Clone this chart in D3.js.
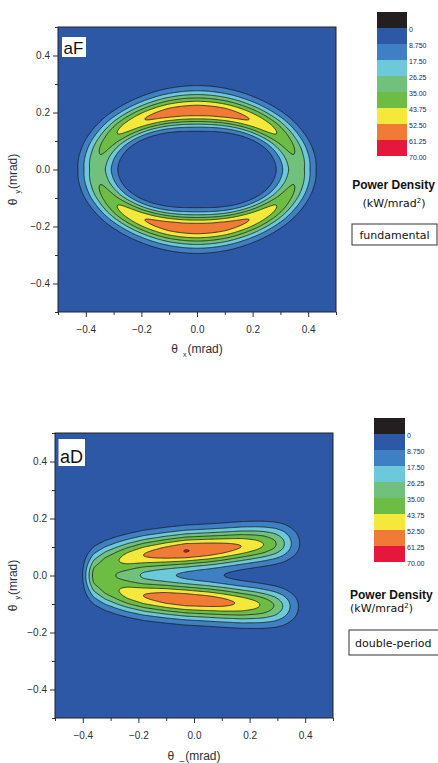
<!DOCTYPE html>
<html>
<head>
<meta charset="utf-8">
<script src="https://cdn.jsdelivr.net/npm/d3@7"></script>
<style>
  body { margin: 0; background: #fff; }
  svg { display: block; }
</style>
</head>
<body>
<svg id="chart" width="438" height="763"></svg>
<script>
// contour levels (kW/mrad^2) and legend
const levels = [0, 8.75, 17.5, 26.25, 35, 43.75, 52.5, 61.25, 70];
const levelLabels = ['0', '8.750', '17.50', '26.25', '35.00', '43.75', '52.50', '61.25', '70.00'];
const bandColors = ['#2d58a6', '#3f7fc3', '#6cc9d9', '#71c07c', '#6dbd45', '#f4e93b', '#f07a36', '#e5173c'];
const overColor = '#231f20';

const majorTicks = [-0.4, -0.2, 0, 0.2, 0.4];
const minorTicks = [-0.5, -0.3, -0.1, 0.1, 0.3, 0.5];

// fundamental: ring, per elliptic angle (deg, first quadrant)
const ringAngles = [0, 15, 30, 45, 60, 75, 90];
const ringPeak = [32, 35, 40, 47.5, 53, 57, 58];
const ringSigmaIn = [0.046, 0.045, 0.043, 0.041, 0.039, 0.037, 0.0365];
const ringSigmaOut = [0.043, 0.044, 0.045, 0.046, 0.046, 0.046, 0.046];
const ringRadiusX = 0.359;
const ringRadiusY = 0.205;

// double-period: two ridges joined on the left, read along theta_x
const dpX = [-0.42, -0.4, -0.38, -0.36, -0.32, -0.28, -0.24, -0.18, -0.1, -0.03, 0.05, 0.1, 0.17, 0.22, 0.25, 0.29, 0.32, 0.35, 0.38, 0.41];
const dpUpperY = [0.018, 0.022, 0.027, 0.033, 0.045, 0.055, 0.062, 0.072, 0.08, 0.086, 0.091, 0.095, 0.102, 0.106, 0.108, 0.11, 0.111, 0.112, 0.112, 0.112];
const dpLowerY = [-0.018, -0.022, -0.027, -0.033, -0.045, -0.055, -0.062, -0.071, -0.078, -0.084, -0.089, -0.093, -0.099, -0.102, -0.104, -0.106, -0.107, -0.108, -0.108, -0.108];
const dpUpperPeak = [1, 5, 15, 26, 36, 41, 47, 52.5, 58, 61.6, 59.5, 57, 52.5, 47.5, 43.75, 36.5, 28, 17.5, 8.75, 1];
const dpLowerPeak = [1, 5, 15, 26, 36, 41, 47, 52.5, 57.5, 59, 57.5, 55.5, 51, 46, 42, 34.5, 26, 16, 7.5, 1];
const dpSigmaOut = 0.046;
const dpSigmaIn = 0.042;

const interp = (xs, ys, v) => {
  if (v <= xs[0]) return ys[0];
  if (v >= xs[xs.length - 1]) return ys[ys.length - 1];
  const i = d3.bisectRight(xs, v) - 1;
  const f = (v - xs[i]) / (xs[i + 1] - xs[i]);
  return ys[i] + f * (ys[i + 1] - ys[i]);
};

function ringField(x, y) {
  const t = Math.atan2(y / ringRadiusY, x / ringRadiusX);
  let deg = Math.abs((t * 180) / Math.PI);
  if (deg > 90) deg = 180 - deg;
  const rE = Math.hypot(ringRadiusX * Math.cos(t), ringRadiusY * Math.sin(t));
  const d = Math.hypot(x, y) - rE;
  const s = d < 0 ? interp(ringAngles, ringSigmaIn, deg) : interp(ringAngles, ringSigmaOut, deg);
  return interp(ringAngles, ringPeak, deg) * Math.exp(-0.5 * (d / s) ** 2);
}

function doubleField(x, y) {
  const du = y - interp(dpX, dpUpperY, x);
  const dl = y - interp(dpX, dpLowerY, x);
  const su = du > 0 ? dpSigmaOut : dpSigmaIn;
  const sl = dl < 0 ? dpSigmaOut : dpSigmaIn;
  return (
    interp(dpX, dpUpperPeak, x) * Math.exp(-0.5 * (du / su) ** 2) +
    interp(dpX, dpLowerPeak, x) * Math.exp(-0.5 * (dl / sl) ** 2)
  );
}

const svg = d3.select('#chart');
const tickFont = 'Liberation Sans, Arial, sans-serif';

function drawPanel(p) {
  const x = d3.scaleLinear().domain([-0.5, 0.5]).range([p.left, p.right]);
  const y = d3.scaleLinear().domain([-0.5, 0.5]).range([p.bottom, p.top]);
  const g = svg.append('g');

  g.append('clipPath')
    .attr('id', `clip-${p.id}`)
    .append('rect')
    .attr('x', p.left)
    .attr('y', p.top)
    .attr('width', p.right - p.left)
    .attr('height', p.bottom - p.top);

  g.append('rect')
    .attr('x', p.left)
    .attr('y', p.top)
    .attr('width', p.right - p.left)
    .attr('height', p.bottom - p.top)
    .attr('fill', bandColors[0]);

  const n = 300;
  const values = new Float64Array(n * n);
  for (let j = 0; j < n; j++) {
    for (let i = 0; i < n; i++) {
      values[j * n + i] = p.field(-0.5 + (i + 0.5) / n, 0.5 - (j + 0.5) / n);
    }
  }

  const contours = d3
    .contours()
    .size([n, n])
    .thresholds(levels.slice(1, 8))(values);

  const proj = d3.geoTransform({
    point(px, py) {
      this.stream.point(x(-0.5 + px / n), y(0.5 - py / n));
    }
  });

  g.append('g')
    .attr('clip-path', `url(#clip-${p.id})`)
    .selectAll('path')
    .data(contours)
    .join('path')
    .attr('d', d3.geoPath(proj))
    .attr('fill', (d, i) => bandColors[i + 1])
    .attr('stroke', '#1b1b1b')
    .attr('stroke-width', 0.8)
    .attr('stroke-linejoin', 'round');

  // axes
  const styleAxis = sel => {
    sel.select('.domain').remove();
    sel.selectAll('line').attr('stroke', '#333');
    sel.selectAll('text')
      .attr('font-family', tickFont)
      .attr('font-size', 10)
      .attr('fill', '#2c2f3a');
  };

  g.append('g')
    .attr('transform', `translate(0,${p.bottom})`)
    .call(d3.axisBottom(x).tickValues(minorTicks).tickSize(3).tickFormat(''))
    .call(styleAxis);
  g.append('g')
    .attr('transform', `translate(0,${p.bottom})`)
    .call(d3.axisBottom(x).tickValues(majorTicks).tickSize(5).tickPadding(9).tickFormat(d3.format('.1f')))
    .call(styleAxis);
  g.append('g')
    .attr('transform', `translate(${p.left},0)`)
    .call(d3.axisLeft(y).tickValues(minorTicks).tickSize(3).tickFormat(''))
    .call(styleAxis);
  g.append('g')
    .attr('transform', `translate(${p.left},0)`)
    .call(d3.axisLeft(y).tickValues(majorTicks).tickSize(5).tickPadding(3).tickFormat(d3.format('.1f')))
    .call(styleAxis);

  g.append('rect')
    .attr('x', p.left)
    .attr('y', p.top)
    .attr('width', p.right - p.left)
    .attr('height', p.bottom - p.top)
    .attr('fill', 'none')
    .attr('stroke', '#222')
    .attr('stroke-width', 1);

  // axis titles
  const xt = g.append('text')
    .attr('x', (p.left + p.right) / 2)
    .attr('y', p.xTitleY)
    .attr('text-anchor', 'middle')
    .attr('font-family', tickFont)
    .attr('font-size', 12)
    .attr('fill', '#2c2f3a');
  xt.append('tspan').text('θ');
  xt.append('tspan').attr('dx', 5).attr('dy', p.xSubDy).attr('font-size', p.xSubSize).text(p.xSub);
  xt.append('tspan').attr('dx', 1).attr('dy', -p.xSubDy).text('(mrad)');

  const yt = g.append('text')
    .attr('transform', `translate(17,${(p.top + p.bottom) / 2 + 10}) rotate(-90)`)
    .attr('text-anchor', 'middle')
    .attr('font-family', tickFont)
    .attr('font-size', 12)
    .attr('fill', '#2c2f3a');
  yt.append('tspan').text('θ');
  yt.append('tspan').attr('dx', 5).attr('dy', 3).attr('font-size', 7).text('y');
  yt.append('tspan').attr('dx', 1).attr('dy', -3).text('(mrad)');

  // panel tag
  g.append('rect')
    .attr('x', p.tag.x)
    .attr('y', p.tag.y)
    .attr('width', p.tag.w)
    .attr('height', p.tag.h)
    .attr('fill', '#fff');
  g.append('text')
    .attr('x', p.tag.x + 1.5)
    .attr('y', p.tag.y + p.tag.h - 3.5)
    .attr('font-family', tickFont)
    .attr('font-size', p.tag.size)
    .attr('fill', '#111')
    .text(p.tag.text);
}

function drawLegend(l) {
  const g = svg.append('g');
  const step = 16;
  g.append('rect')
    .attr('x', l.barX)
    .attr('y', l.zeroY - step)
    .attr('width', l.barW)
    .attr('height', step)
    .attr('fill', overColor);

  g.selectAll('.band')
    .data(bandColors)
    .join('rect')
    .attr('class', 'band')
    .attr('x', l.barX)
    .attr('y', (d, i) => l.zeroY + i * step)
    .attr('width', l.barW)
    .attr('height', step)
    .attr('fill', d => d);

  g.selectAll('.lvl')
    .data(levelLabels)
    .join('text')
    .attr('class', 'lvl')
    .attr('x', l.labelX)
    .attr('y', (d, i) => l.zeroY + i * step + 3.5)
    .attr('font-family', tickFont)
    .attr('font-size', 7)
    .attr('fill', '#1c2550')
    .text(d => d);

  g.append('text')
    .attr('x', l.titleX)
    .attr('y', l.titleY)
    .attr('text-anchor', l.anchor)
    .attr('font-family', tickFont)
    .attr('font-weight', 'bold')
    .attr('font-size', 12)
    .attr('fill', '#111')
    .text('Power Density');

  const u = g.append('text')
    .attr('x', l.unitX)
    .attr('y', l.unitY)
    .attr('text-anchor', l.anchor)
    .attr('font-family', 'DejaVu Sans, sans-serif')
    .attr('font-size', 11)
    .attr('fill', '#111');
  u.append('tspan').text('(kW/mrad');
  u.append('tspan').attr('dy', -4).attr('font-size', 7).text('2');
  u.append('tspan').attr('dy', 4).text(')');

  g.append('rect')
    .attr('x', l.box.x)
    .attr('y', l.box.y)
    .attr('width', l.box.w)
    .attr('height', l.box.h)
    .attr('fill', '#fff')
    .attr('stroke', '#333')
    .attr('stroke-width', 1);
  g.append('text')
    .attr('x', l.box.tx)
    .attr('y', l.box.ty)
    .attr('text-anchor', l.box.anchor)
    .attr('font-family', 'DejaVu Sans, sans-serif')
    .attr('font-size', 11)
    .attr('fill', '#111')
    .text(l.box.text);
}

drawPanel({
  id: 'aF', left: 58, right: 336, top: 27, bottom: 312,
  field: ringField, xTitleY: 353, xSub: 'x', xSubDy: 4, xSubSize: 7,
  tag: { x: 62, y: 37, w: 24, h: 20, size: 17, text: 'aF' }
});

drawPanel({
  id: 'aD', left: 55, right: 333, top: 433, bottom: 718,
  field: doubleField, xTitleY: 760, xSub: '_', xSubDy: 0, xSubSize: 9,
  tag: { x: 58.5, y: 439, w: 26.5, h: 27, size: 18, text: 'aD' }
});

drawLegend({
  barX: 377, barW: 30, zeroY: 28, labelX: 409,
  titleX: 393.5, titleY: 189, unitX: 394, unitY: 207, anchor: 'middle',
  box: { x: 352, y: 224, w: 85, h: 21, tx: 394.5, ty: 238.5, anchor: 'middle', text: 'fundamental' }
});

drawLegend({
  barX: 374, barW: 31, zeroY: 434, labelX: 407,
  titleX: 350, titleY: 598.5, unitX: 350, unitY: 612, anchor: 'start',
  box: { x: 349, y: 630, w: 95, h: 25, tx: 355, ty: 647, anchor: 'start', text: 'double-period' }
});
</script>
</body>
</html>
